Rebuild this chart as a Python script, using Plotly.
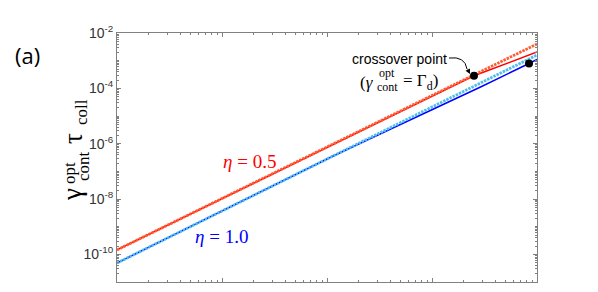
import numpy as np
import plotly.graph_objects as go

# ---- data (x in arbitrary decades 1..1e4, y = gamma_cont^opt * tau_coll) ----
red_dotted_x = [1, 10000]
red_dotted_y = [1.44e-10, 4.0e-3]                 # eta = 0.5, dotted
red_solid_x = [1, 2512, 10000]
red_solid_y = [1.44e-10, 2.85e-4, 2.05e-3]        # eta = 0.5, solid
blue_dotted_x = [1, 10000]
blue_dotted_y = [4.86e-11, 1.6e-3]                # eta = 1.0, dotted
blue_solid_x = [1, 107, 320, 957, 2865, 8395, 10000]
blue_solid_y = [4.86e-11, 3.16e-7, 2.24e-6, 1.54e-5, 1.09e-4, 7.9e-4, 1.1e-3]  # eta = 1.0, solid
cross_x = [2512, 8395]
cross_y = [2.85e-4, 7.9e-4]

x_tickvals = [1, 10, 100, 1000, 10000]
y_tickvals = [1e-2, 1e-4, 1e-6, 1e-8, 1e-10]
y_ticktext = ["10<sup>-2</sup>", "10<sup>-4</sup>", "10<sup>-6</sup>", "10<sup>-8</sup>", "10<sup>-10</sup>"]

W, H = 598, 292
L, R, T, B = 117, 61, 33, 10
pw, ph = W - L - R, H - T - B

def px(x):
    return (x - L) / pw

def py(y):
    return (H - B - y) / ph

fig = go.Figure()
fig.add_trace(go.Scatter(x=red_solid_x, y=red_solid_y, mode="lines", line=dict(color="#FF0000", width=1.5)))
fig.add_trace(go.Scatter(x=blue_solid_x, y=blue_solid_y, mode="lines", line=dict(color="#0000FF", width=1.5)))
fig.add_trace(go.Scatter(x=red_dotted_x, y=red_dotted_y, mode="lines",
                         line=dict(color="#FF5C33", width=2.8, dash="2.5px,1px")))
fig.add_trace(go.Scatter(x=blue_dotted_x, y=blue_dotted_y, mode="lines",
                         line=dict(color="#4DBEEE", width=2.8, dash="2.5px,1px")))
fig.add_trace(go.Scatter(x=cross_x, y=cross_y, mode="markers", marker=dict(color="black", size=8)))

minor_y = [m * 10.0 ** e for e in range(-11, -2) for m in range(2, 10)] + [10.0 ** e for e in (-11, -9, -7, -5, -3)]
minor_x = [m * 10.0 ** e for e in range(0, 4) for m in range(2, 10)]

axis_common = dict(showgrid=False, zeroline=False, showline=True, linecolor="#808080", linewidth=1,
                   mirror="allticks", ticks="inside", tickcolor="#808080", ticklen=4)

fig.update_xaxes(type="log", range=[0, 4], tickvals=x_tickvals, showticklabels=False,
                 minor=dict(tickvals=minor_x, ticks="inside", ticklen=2, tickcolor="#808080"),
                 **axis_common)
fig.update_yaxes(type="log", range=[-11, -2], tickvals=y_tickvals, ticktext=y_ticktext,
                 tickfont=dict(family="Liberation Sans", size=14, color="#333333"),
                 minor=dict(tickvals=minor_y, ticks="inside", ticklen=2, tickcolor="#808080"),
                 **axis_common)

serif = "Liberation Serif"
ann = []
def add(text, x, y, size, color="black", family=serif, angle=0, xanchor="center"):
    ann.append(dict(text=text, x=px(x), y=py(y), xref="paper", yref="paper", showarrow=False,
                    font=dict(family=family, size=size, color=color), textangle=angle,
                    xanchor=xanchor, yanchor="middle"))

add("(a)", 27, 55, 22, family="Open Sans")
# y axis title pieces (rotated)
add("γ", 72, 195, 27, angle=-90)
add("opt", 69, 173, 17, angle=-90)
add("cont", 83, 166, 17, angle=-90)
add("τ", 73, 139, 27, angle=-90)
add("coll", 82, 112, 17, angle=-90)
add("<i>η</i> = 0.5", 249, 161, 19, color="#FF0000")
add("<i>η</i> = 1.0", 221, 236, 19, color="#0000FF")
add("crossover point", 399, 59, 14, family="Liberation Sans")
add("(<i>γ</i>", 376, 82, 17, xanchor="right")
add("opt", 387, 73, 12)
add("cont", 387, 87, 12)
add("= Γ<sub>d</sub>)", 401, 82, 17, xanchor="left")

# curved arrow from label to crossover point
fig.add_shape(type="path", xref="paper", yref="paper",
              path=f"M{px(449)},{py(58)} Q{px(465)},{py(56)} {px(467)},{py(69)}",
              line=dict(color="black", width=1))
ann.append(dict(x=px(470), y=py(74), xref="paper", yref="paper", ax=-3, ay=-6,
                showarrow=True, arrowhead=2, arrowsize=1,
                arrowwidth=1, arrowcolor="black", text=""))
fig.update_layout(annotations=ann, width=W, height=H, showlegend=False,
                  margin=dict(l=L, r=R, t=T, b=B), plot_bgcolor="white", paper_bgcolor="white")
fig.write_html("out.html", config={"displayModeBar": False},
               post_script="document.body.style.margin='0';")
